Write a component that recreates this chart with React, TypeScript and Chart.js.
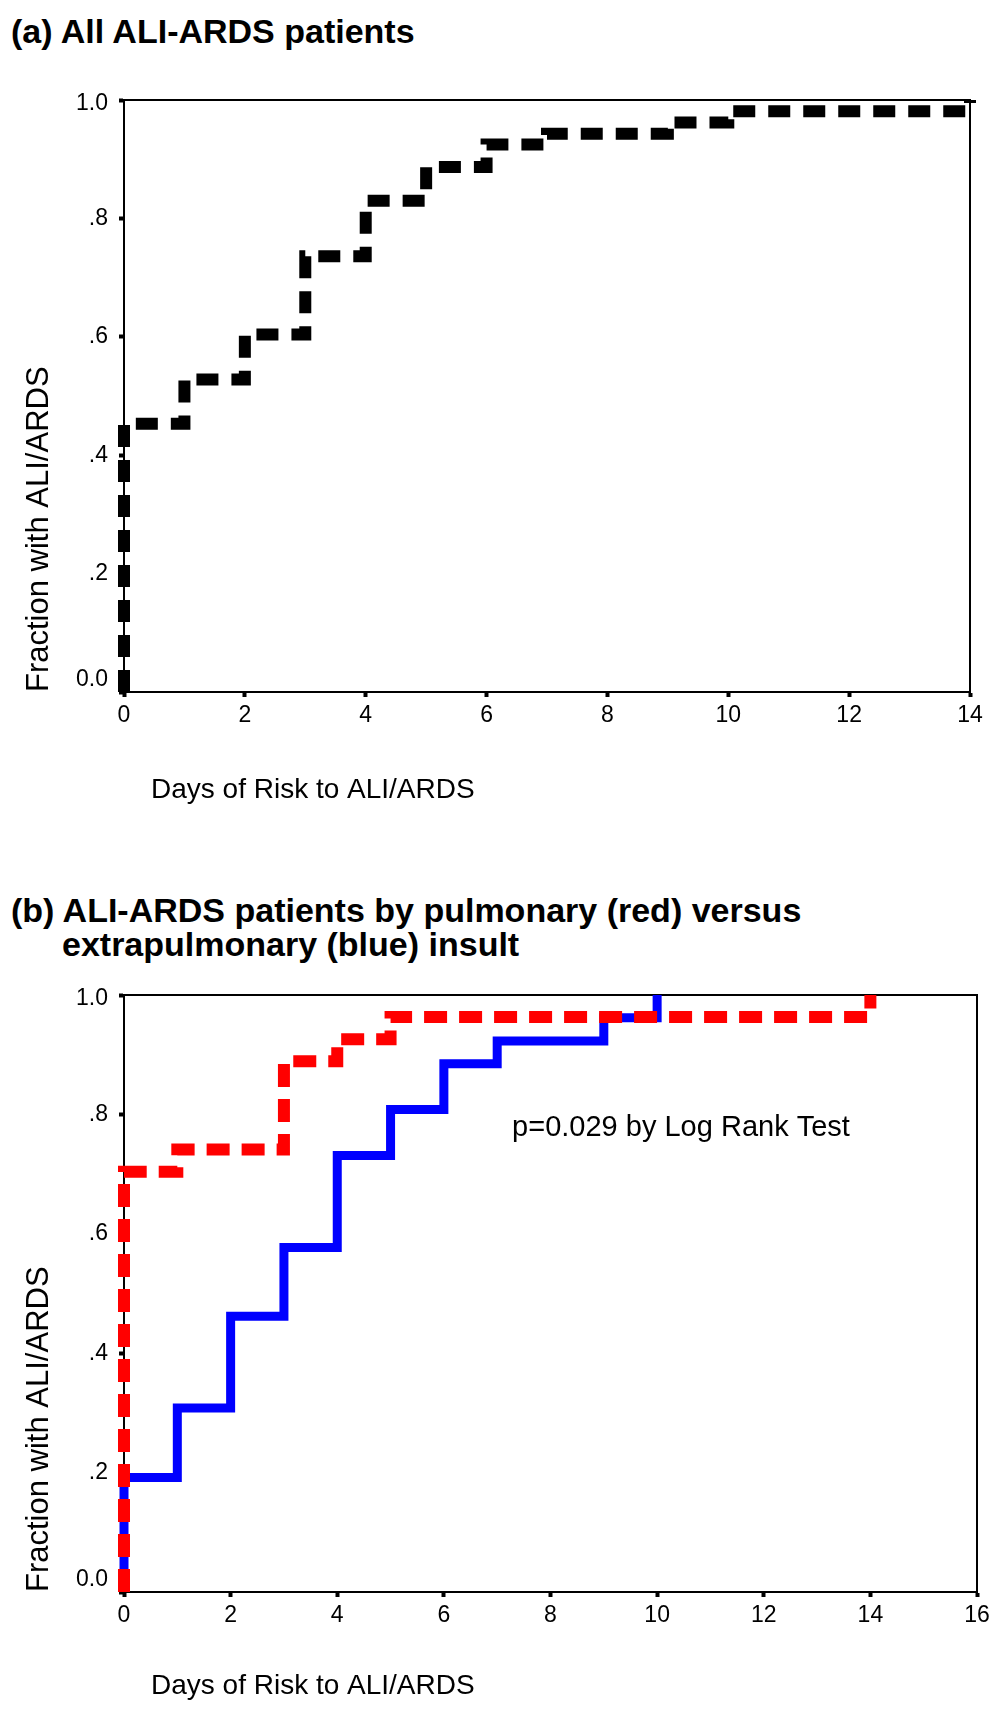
import React, { useEffect, useRef } from "react";
import { Chart, registerables } from "chart.js";

Chart.register(...registerables);

// ---------- Data ----------
// (a) All ALI-ARDS patients: Kaplan-Meier style cumulative fraction
const daysA = [0, 0, 1, 2, 3, 4, 5, 6, 7, 9, 10, 14];
const fracA = [0, 0.453, 0.528, 0.604, 0.736, 0.83, 0.887, 0.925, 0.943, 0.962, 0.981, 1.0];

// (b) Pulmonary (red) vs extrapulmonary (blue)
const daysRed = [0, 0, 1, 3, 4, 5, 14];
const fracRed = [0, 0.704, 0.741, 0.889, 0.926, 0.963, 1.0];
const daysBlue = [0, 0, 1, 2, 3, 4, 5, 6, 7, 9, 10];
const fracBlue = [0, 0.192, 0.308, 0.462, 0.577, 0.731, 0.808, 0.885, 0.923, 0.962, 1.0];

// Tick labels
const yTickLabels = ["0.0", ".2", ".4", ".6", ".8", "1.0"];
const xTickLabelsA = ["0", "2", "4", "6", "8", "10", "12", "14"];
const xTickLabelsB = ["0", "2", "4", "6", "8", "10", "12", "14", "16"];

// Text
const titleA = "(a) All ALI-ARDS patients";
const titleB1 = "(b) ALI-ARDS patients by pulmonary (red) versus";
const titleB2 = "extrapulmonary (blue) insult";
const xTitle = "Days of Risk to ALI/ARDS";
const yTitle = "Fraction with ALI/ARDS";
const annotationText = "p=0.029 by Log Rank Test";
const annotationX = 7.28;
const annotationY = 0.777;

const FONT = "'Liberation Sans', Arial, Helvetica, sans-serif";
const TICK_FONT_SIZE = 23;

const toPoints = (xs: number[], ys: number[]) => xs.map((x, i) => ({ x, y: ys[i] }));

// Plugin: frame (top/right lines), end y-labels nudged inside, x-axis title, annotation
const extrasPlugin = {
  id: "extras",
  beforeDatasetsDraw(chart: any) {
    const { ctx, chartArea } = chart;
    ctx.save();
    ctx.strokeStyle = "#000";
    ctx.lineWidth = 2;
    ctx.beginPath();
    ctx.moveTo(chartArea.left, chartArea.top);
    ctx.lineTo(chartArea.right, chartArea.top);
    ctx.lineTo(chartArea.right, chartArea.bottom);
    ctx.stroke();
    ctx.restore();
  },
  afterDraw(chart: any, _args: any, opts: any) {
    const { ctx, chartArea, scales } = chart;
    ctx.save();
    ctx.fillStyle = "#000";
    // end labels of y axis (SPSS style: kept inside the axis range)
    ctx.font = `${TICK_FONT_SIZE}px ${FONT}`;
    ctx.textAlign = "right";
    ctx.textBaseline = "middle";
    const yl = scales.y;
    const lx = chartArea.left - 16;
    ctx.fillText(yTickLabels[0], lx, yl.getPixelForValue(0) - 12);
    ctx.fillText(yTickLabels[yTickLabels.length - 1], lx, yl.getPixelForValue(1) + 4);

    ctx.textAlign = "left";
    ctx.font = `28px ${FONT}`;
    ctx.fillText(opts.xTitle, chartArea.left + opts.xTitleDx, chartArea.bottom + opts.xTitleDy);
    if (opts.annotation) {
      ctx.font = `29px ${FONT}`;
      ctx.fillText(
        opts.annotation,
        scales.x.getPixelForValue(opts.annotationX),
        scales.y.getPixelForValue(opts.annotationY)
      );
    }
    ctx.restore();
  },
};

function makeScales(xMax: number, xLabels: string[], xHeight: number) {
  const lastY = yTickLabels.length - 1;
  return {
    x: {
      type: "linear" as const,
      min: 0,
      max: xMax,
      border: { display: true, color: "#000", width: 2 },
      grid: { drawOnChartArea: false, drawTicks: true, tickLength: 5, tickWidth: 4, tickColor: "#000" },
      ticks: {
        stepSize: 2,
        autoSkip: false,
        maxRotation: 0,
        padding: 5,
        color: "#000",
        font: { size: TICK_FONT_SIZE, family: FONT },
        callback: (_v: any, i: number) => xLabels[i],
      },
      afterFit: (s: any) => {
        s.height = xHeight;
      },
    },
    y: {
      type: "linear" as const,
      min: 0,
      max: 1,
      border: { display: true, color: "#000", width: 2 },
      grid: { drawOnChartArea: false, drawTicks: true, tickLength: 5, tickWidth: 4, tickColor: "#000" },
      ticks: {
        stepSize: 0.2,
        padding: 11,
        color: (c: any) => (c.index === 0 || c.index === lastY ? "rgba(0,0,0,0)" : "#000"),
        font: { size: TICK_FONT_SIZE, family: FONT },
        callback: (_v: any, i: number) => yTickLabels[i],
      },
      title: {
        display: true,
        text: yTitle,
        align: "start" as const,
        color: "#000",
        font: { size: 31, family: FONT },
        padding: { top: 21, bottom: 0 },
      },
      afterFit: (s: any) => {
        s.width = 124;
      },
    },
  };
}

function ChartA() {
  const ref = useRef<HTMLCanvasElement>(null);
  useEffect(() => {
    if (!ref.current) return;
    const chart = new Chart(ref.current, {
      type: "line",
      data: {
        datasets: [
          {
            label: "All ALI-ARDS patients",
            data: toPoints(daysA, fracA),
            borderColor: "#000",
            borderWidth: 12,
            borderDash: [22, 13],
            stepped: "before",
            pointRadius: 0,
            fill: false,
            clip: 12,
          },
        ],
      },
      options: {
        responsive: false,
        animation: false,
        layout: { autoPadding: false, padding: { top: 40, left: 0, right: 34, bottom: 0 } },
        plugins: {
          legend: { display: false },
          tooltip: { enabled: false },
          extras: { xTitle, xTitleDx: 27, xTitleDy: 98 },
        } as any,
        scales: makeScales(14, xTickLabelsA, 148) as any,
      },
      plugins: [extrasPlugin],
    });
    return () => chart.destroy();
  }, []);
  return (
    <canvas
      ref={ref}
      width={1004}
      height={780}
      style={{ position: "absolute", left: 0, top: 60, width: 1004, height: 780 }}
    />
  );
}

function ChartB() {
  const ref = useRef<HTMLCanvasElement>(null);
  useEffect(() => {
    if (!ref.current) return;
    const chart = new Chart(ref.current, {
      type: "line",
      data: {
        datasets: [
          {
            label: "Pulmonary",
            data: toPoints(daysRed, fracRed),
            borderColor: "#ff0000",
            borderWidth: 12,
            borderDash: [23, 12],
            stepped: "before",
            pointRadius: 0,
            fill: false,
            clip: 12,
          },
          {
            label: "Extrapulmonary",
            data: toPoints(daysBlue, fracBlue),
            borderColor: "#0000ff",
            borderWidth: 9,
            stepped: "before",
            pointRadius: 0,
            fill: false,
            clip: 12,
          },
        ],
      },
      options: {
        responsive: false,
        animation: false,
        layout: { autoPadding: false, padding: { top: 35, left: 0, right: 27, bottom: 0 } },
        plugins: {
          legend: { display: false },
          tooltip: { enabled: false },
          extras: {
            xTitle,
            xTitleDx: 27,
            xTitleDy: 94,
            annotation: annotationText,
            annotationX,
            annotationY,
          },
        } as any,
        scales: makeScales(16, xTickLabelsB, 134) as any,
      },
      plugins: [extrasPlugin],
    });
    return () => chart.destroy();
  }, []);
  return (
    <canvas
      ref={ref}
      width={1004}
      height={766}
      style={{ position: "absolute", left: 0, top: 960, width: 1004, height: 766 }}
    />
  );
}

export default function App() {
  useEffect(() => {
    document.body.style.margin = "0";
  }, []);
  const headStyle: React.CSSProperties = {
    position: "absolute",
    fontFamily: FONT,
    fontWeight: "bold",
    fontSize: 34,
    lineHeight: "34px",
    color: "#000",
    whiteSpace: "nowrap",
    margin: 0,
  };
  return (
    <div style={{ position: "relative", width: 1004, height: 1726, background: "#fff", overflow: "hidden" }}>
      <div style={{ ...headStyle, left: 11, top: 14 }}>{titleA}</div>
      <div style={{ ...headStyle, left: 11, top: 893 }}>{titleB1}</div>
      <div style={{ ...headStyle, left: 62, top: 927 }}>{titleB2}</div>
      <ChartA />
      <ChartB />
    </div>
  );
}
